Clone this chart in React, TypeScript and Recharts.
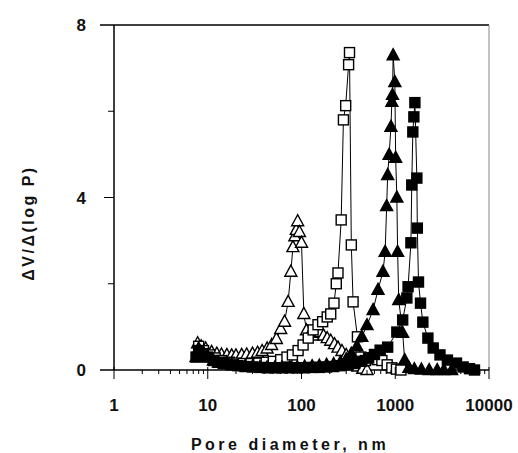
import { ScatterChart, Scatter, XAxis, YAxis, ReferenceLine } from "recharts";

// pore diameter (nm) / dV/d(log P)
const openTriX = [7.8, 8.5, 9.5, 11, 12.5, 14, 16, 18, 20, 23, 26, 30, 34, 38, 43, 48, 54, 60, 66, 72, 77, 81, 85, 88, 91, 95, 100, 106, 113, 122, 133, 145, 158, 172, 188, 205, 225, 245, 270, 300, 330, 365, 400, 450, 500];
const openTriY = [0.62, 0.55, 0.5, 0.42, 0.38, 0.36, 0.35, 0.34, 0.34, 0.35, 0.36, 0.38, 0.4, 0.44, 0.5, 0.58, 0.72, 0.95, 1.12, 1.58, 2.28, 2.85, 3.1, 3.25, 3.45, 3.2, 2.95, 1.3, 0.92, 0.82, 0.8, 0.86, 0.88, 0.8, 0.74, 0.68, 0.6, 0.52, 0.44, 0.35, 0.25, 0.15, 0.08, 0.03, 0];

const openSqX = [8, 9, 10.5, 12, 14, 17, 20, 24, 29, 35, 42, 50, 60, 70, 80, 92, 104, 118, 133, 150, 168, 188, 205, 222, 235, 245, 265, 280, 296, 318, 325, 340, 355, 395, 430, 480, 560, 640, 720, 820, 920, 1030, 1150];
const openSqY = [0.55, 0.45, 0.35, 0.28, 0.22, 0.18, 0.16, 0.15, 0.15, 0.16, 0.18, 0.2, 0.24, 0.3, 0.35, 0.45, 0.58, 0.74, 0.93, 1.05, 1.12, 1.23, 1.3, 1.55, 2.0, 2.25, 3.48, 5.8, 6.13, 7.08, 7.36, 2.9, 1.58, 0.77, 0.3, 0.22, 0.28, 0.24, 0.22, 0.12, 0.05, 0.02, 0];

const fillTriX = [7.5, 8, 9, 10, 11.5, 13, 15, 18, 21, 25, 30, 36, 43, 52, 62, 75, 90, 108, 130, 155, 185, 220, 260, 300, 340, 390, 440, 500, 580, 655, 740, 780, 810, 830, 860, 900, 920, 935, 950, 990, 1010, 1040, 1060, 1090, 1200, 1260, 1400, 1600, 1900, 2300, 2800, 3300, 4000];
const fillTriY = [0.3, 0.5, 0.4, 0.3, 0.22, 0.17, 0.14, 0.12, 0.1, 0.09, 0.08, 0.07, 0.06, 0.06, 0.06, 0.06, 0.07, 0.08, 0.09, 0.1, 0.12, 0.14, 0.18, 0.25, 0.38, 0.55, 0.77, 1.04, 1.39, 1.86, 2.28, 2.74, 3.8, 4.52, 4.99, 5.64, 6.22, 6.38, 7.3, 6.68, 4.92, 4.0, 2.74, 1.62, 0.86, 0.23, 0.05, 0.02, 0.01, 0, 0, 0, 0];

const fillSqX = [7.5, 8, 9, 10, 11.5, 13, 15, 18, 21, 25, 30, 36, 43, 52, 62, 75, 90, 108, 130, 155, 185, 220, 260, 310, 370, 440, 520, 600, 690, 830, 1040, 1200, 1330, 1370, 1470, 1500, 1540, 1580, 1620, 1700, 1720, 1770, 1860, 1970, 2230, 2540, 3000, 3600, 4500, 5300, 6200, 7000];
const fillSqY = [0.3, 0.45, 0.38, 0.3, 0.22, 0.18, 0.15, 0.12, 0.1, 0.08, 0.07, 0.06, 0.05, 0.05, 0.05, 0.05, 0.05, 0.05, 0.06, 0.06, 0.07, 0.08, 0.1, 0.12, 0.15, 0.2, 0.28, 0.36, 0.46, 0.53, 0.88, 1.16, 1.67, 1.93, 2.95, 4.29, 5.52, 5.87, 6.2, 4.45, 3.29, 2.04, 1.55, 1.11, 0.74, 0.51, 0.35, 0.23, 0.16, 0.07, 0.03, 0];

const xMajor = [1, 10, 100, 1000, 10000];
const xTicks = [1, 2, 3, 4, 5, 6, 7, 8, 9, 10, 20, 30, 40, 50, 60, 70, 80, 90, 100, 200, 300, 400, 500, 600, 700, 800, 900, 1000, 2000, 3000, 4000, 5000, 6000, 7000, 8000, 9000, 10000];
const yTicks = [0, 2, 4, 6, 8];
const yLabeled = [0, 4, 8];

const font = "'Liberation Sans', Arial, sans-serif";

const zip = (xs: number[], ys: number[]) => xs.map((x, i) => ({ x, y: ys[i] }));

const tri = (fill: string) => (p: any) => {
  const { cx, cy } = p;
  return (
    <polygon
      points={`${cx},${cy - 6.5} ${cx - 6},${cy + 4.5} ${cx + 6},${cy + 4.5}`}
      fill={fill}
      stroke="#000"
      strokeWidth={1.4}
    />
  );
};

const sq = (fill: string) => (p: any) => {
  const { cx, cy } = p;
  return <rect x={cx - 5} y={cy - 5} width={10} height={10} fill={fill} stroke="#000" strokeWidth={1.4} />;
};

const XTick = (p: any) => {
  const { x, y, payload } = p;
  const major = xMajor.includes(payload.value);
  return (
    <g>
      <line x1={x} x2={x} y1={major ? y - 3 : y} y2={major ? y + 9 : y + 4} stroke="#000" strokeWidth={1} />
      {major && (
        <text x={x} y={y + 41} textAnchor="middle" fontFamily={font} fontWeight={700} fontSize={17} fill="#111">
          {payload.value}
        </text>
      )}
    </g>
  );
};

const YTick = (p: any) => {
  const { x, y, payload } = p;
  const v = payload.value;
  const len = v === 0 || v === 8 ? 14 : v === 4 ? 10 : 6;
  return (
    <g>
      <line x1={x - len} x2={x} y1={y} y2={y} stroke="#000" strokeWidth={v === 0 || v === 8 ? 1.5 : 1} />
      {yLabeled.includes(v) && (
        <text x={x - 28} y={y + 6} textAnchor="end" fontFamily={font} fontWeight={700} fontSize={17} fill="#111">
          {v}
        </text>
      )}
    </g>
  );
};

export default function App() {
  return (
    <div style={{ position: "absolute", left: 0, top: 0, background: "#fff" }}>
      <ScatterChart width={518} height={453} margin={{ top: 25, right: 29, bottom: 0, left: 0 }}>
        <XAxis
          type="number"
          dataKey="x"
          scale="log"
          domain={[1, 10000]}
          ticks={xTicks}
          interval={0}
          height={83}
          tickSize={0}
          tickMargin={0}
          tickLine={false}
          tick={<XTick />}
          axisLine={{ stroke: "#000", strokeWidth: 1.5 }}
          allowDataOverflow
          label={{
            content: () => (
              <text x={290} y={450} textAnchor="middle" fontFamily={font} fontWeight={700} fontSize={16} letterSpacing={3.5} fill="#111">
                Pore diameter, nm
              </text>
            ),
          }}
        />
        <YAxis
          type="number"
          dataKey="y"
          domain={[0, 8]}
          ticks={yTicks}
          interval={0}
          width={114}
          tickSize={0}
          tickMargin={0}
          tickLine={false}
          tick={<YTick />}
          axisLine={{ stroke: "#000", strokeWidth: 1.5 }}
          label={{
            content: () => (
              <text
                x={28}
                y={223}
                transform="rotate(-90 28 223)"
                textAnchor="middle"
                dominantBaseline="central"
                fontFamily={font}
                fontWeight={700}
                fontSize={16}
                letterSpacing={2.5}
                fill="#111"
              >
                ΔV/Δ(log P)
              </text>
            ),
          }}
        />
        <ReferenceLine y={8} stroke="#000" strokeWidth={1.5} />
        <ReferenceLine x={10000} stroke="#888" strokeWidth={1} />
        <Scatter data={zip(openTriX, openTriY)} shape={tri("#fff")} line={{ stroke: "#000", strokeWidth: 1 }} lineType="joint" isAnimationActive={false} />
        <Scatter data={zip(openSqX, openSqY)} shape={sq("#fff")} line={{ stroke: "#000", strokeWidth: 1 }} lineType="joint" isAnimationActive={false} />
        <Scatter data={zip(fillTriX, fillTriY)} shape={tri("#000")} line={{ stroke: "#000", strokeWidth: 1 }} lineType="joint" isAnimationActive={false} />
        <Scatter data={zip(fillSqX, fillSqY)} shape={sq("#000")} line={{ stroke: "#000", strokeWidth: 1 }} lineType="joint" isAnimationActive={false} />
      </ScatterChart>
    </div>
  );
}
